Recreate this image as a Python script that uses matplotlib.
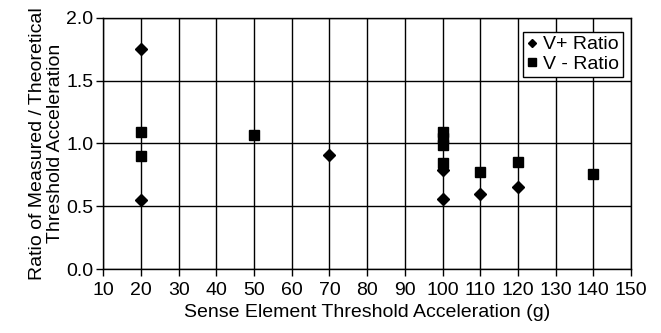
import numpy as np
import matplotlib
matplotlib.use('Agg')
import matplotlib.pyplot as plt

plt.rcParams["font.family"] = ["Liberation Sans", "DejaVu Sans"]

# Data
vplusAccel = [20, 20, 70, 100, 100, 110, 120]
vplusRatio = [1.75, 0.55, 0.91, 0.79, 0.56, 0.60, 0.65]

vminusAccel = [20, 20, 50, 100, 100, 100, 100, 110, 120, 140]
vminusRatio = [1.09, 0.90, 1.07, 1.09, 1.04, 0.99, 0.84, 0.77, 0.85, 0.76]

xTicks = np.arange(10, 151, 10)
yTicks = [0.0, 0.5, 1.0, 1.5, 2.0]

fs = 14

fig = plt.figure(figsize=(6.61, 3.33), dpi=100)
ax0 = fig.add_axes([0.1563, 0.192, 0.7983, 0.755])

ax0.plot(vplusAccel, vplusRatio, "kD", markersize=6.5, linestyle="none", label="V+ Ratio", zorder=3)
ax0.plot(vminusAccel, vminusRatio, "ks", markersize=7.5, linestyle="none", label="V - Ratio", zorder=3)

# Limits and labels
ax0.set_xlim(10, 150)
ax0.set_ylim(0.0, 2.0)
ax0.set_xticks(xTicks)
ax0.set_yticks(yTicks)
ax0.set_yticklabels(["{:.1f}".format(v) for v in yTicks])
ax0.grid(True, color="k", linewidth=1.0)
ax0.set_axisbelow(True)
for s in ax0.spines.values():
    s.set_linewidth(1.0)
ax0.tick_params(axis='both', labelsize=fs, direction="out", length=5, width=1)
ax0.tick_params(axis='x', pad=4)
ax0.tick_params(axis='y', pad=2)
ax0.set_xlabel("Sense Element Threshold Acceleration (g)", fontsize=fs, labelpad=4)
ax0.set_ylabel("Ratio of Measured / Theoretical\nThreshold Acceleration", fontsize=fs,
               labelpad=2, linespacing=1.05)

leg = ax0.legend(loc="upper right", bbox_to_anchor=(0.985, 0.943), fontsize=fs,
                 frameon=True, fancybox=False, edgecolor="k", framealpha=1,
                 handlelength=0.5, handletextpad=0.35, borderpad=0.2,
                 labelspacing=0.1, borderaxespad=0.0, markerscale=0.7)
leg.get_frame().set_linewidth(1.0)

plt.savefig("out.png", dpi=100)
plt.close()
